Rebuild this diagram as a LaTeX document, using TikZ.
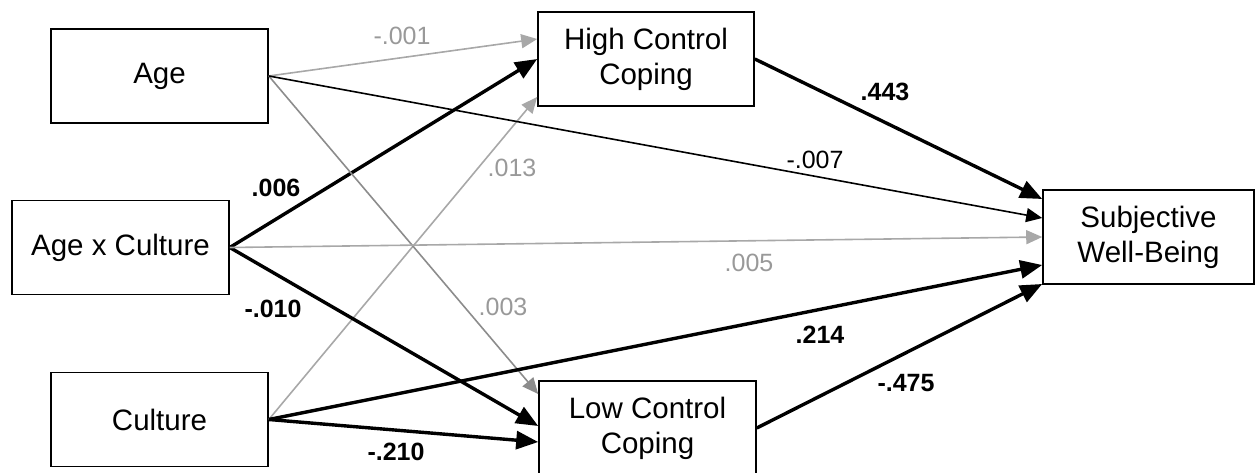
\documentclass[tikz,border=0pt]{standalone}
\usepackage{fontspec}
\setmainfont{Liberation Sans}
\usetikzlibrary{arrows.meta}
\definecolor{lgray}{HTML}{A8A8A8}
\definecolor{mgray}{HTML}{8C8C8C}
\definecolor{tgray}{HTML}{999999}
\tikzset{
  box/.style={draw, line width=1.6pt, minimum width=217pt, minimum height=94pt, inner sep=0pt, align=center, font=\fontsize{29.5}{35}\selectfont},
  thickarr/.style={line width=3.4pt, draw=black, -{Triangle[length=22pt,width=18pt]}},
  thinarr/.style={line width=1.6pt, draw=black, -{Triangle[length=16pt,width=14pt]}},
  lgarr/.style={line width=1.6pt, draw=lgray, -{Triangle[length=16pt,width=14pt]}},
  mgarr/.style={line width=1.6pt, draw=mgray, -{Triangle[length=16pt,width=14pt]}},
  lab/.style={inner sep=0pt, font=\fontsize{25}{30}\selectfont},
  blab/.style={inner sep=0pt, font=\fontsize{25}{30}\selectfont\bfseries},
  glab/.style={inner sep=0pt, text=tgray, font=\fontsize{25}{30}\selectfont}
}
\begin{document}
\begin{tikzpicture}[x=1pt,y=-1pt]
\useasboundingbox (0,0) rectangle (1257,473);
\node[box] (age) at (159.5,76) {Age};
\node[box] (axc) at (120.5,247.5) {Age x Culture};
\node[box] (cul) at (159.5,419.5) {Culture};
\node[box, minimum width=216pt] (hcc) at (646,59) {High Control\\Coping};
\node[box] (lcc) at (647.5,428) {Low Control\\Coping};
\node[box, minimum width=211pt] (swb) at (1148.5,237) {Subjective\\Well-Being};

% arrows into High Control Coping
\draw[lgarr] (age.east) -- ([yshift=20pt]hcc.west);
\draw[thickarr] (axc.east) -- (hcc.west);
\draw[lgarr] (cul.east) -- ([yshift=-38pt]hcc.west);
% arrows into Low Control Coping
\draw[mgarr] (age.east) -- ([yshift=34pt]lcc.west);
\draw[thickarr] (axc.east) -- ([yshift=2pt]lcc.west);
\draw[thickarr] (cul.east) -- ([yshift=-14pt]lcc.west);
% arrows into Subjective Well-Being
\draw[thickarr] (hcc.east) -- ([yshift=38pt]swb.west);
\draw[thinarr] (age.east) -- ([yshift=19pt]swb.west);
\draw[lgarr] (axc.east) -- (swb.west);
\draw[thickarr] (cul.east) -- ([yshift=-28pt]swb.west);
\draw[thickarr] (lcc.east) -- ([yshift=-47pt]swb.west);

% labels
\node[glab] (l1) at (402,36) {-.001};
\node[glab] (l2) at (512,168) {.013};
\node[blab] (l3) at (276,188) {.006};
\node[lab] (l4) at (815,160) {-.007};
\node[blab] (l5) at (885,92) {.443};
\node[blab] (l6) at (273,309) {-.010};
\node[glab] (l7) at (503,307) {.003};
\node[glab] (l8) at (749,263) {.005};
\node[blab] (l9) at (820,335) {.214};
\node[blab] (l10) at (906,383) {-.475};
\node[blab] (l11) at (396,452) {-.210};
\end{tikzpicture}
\end{document}
